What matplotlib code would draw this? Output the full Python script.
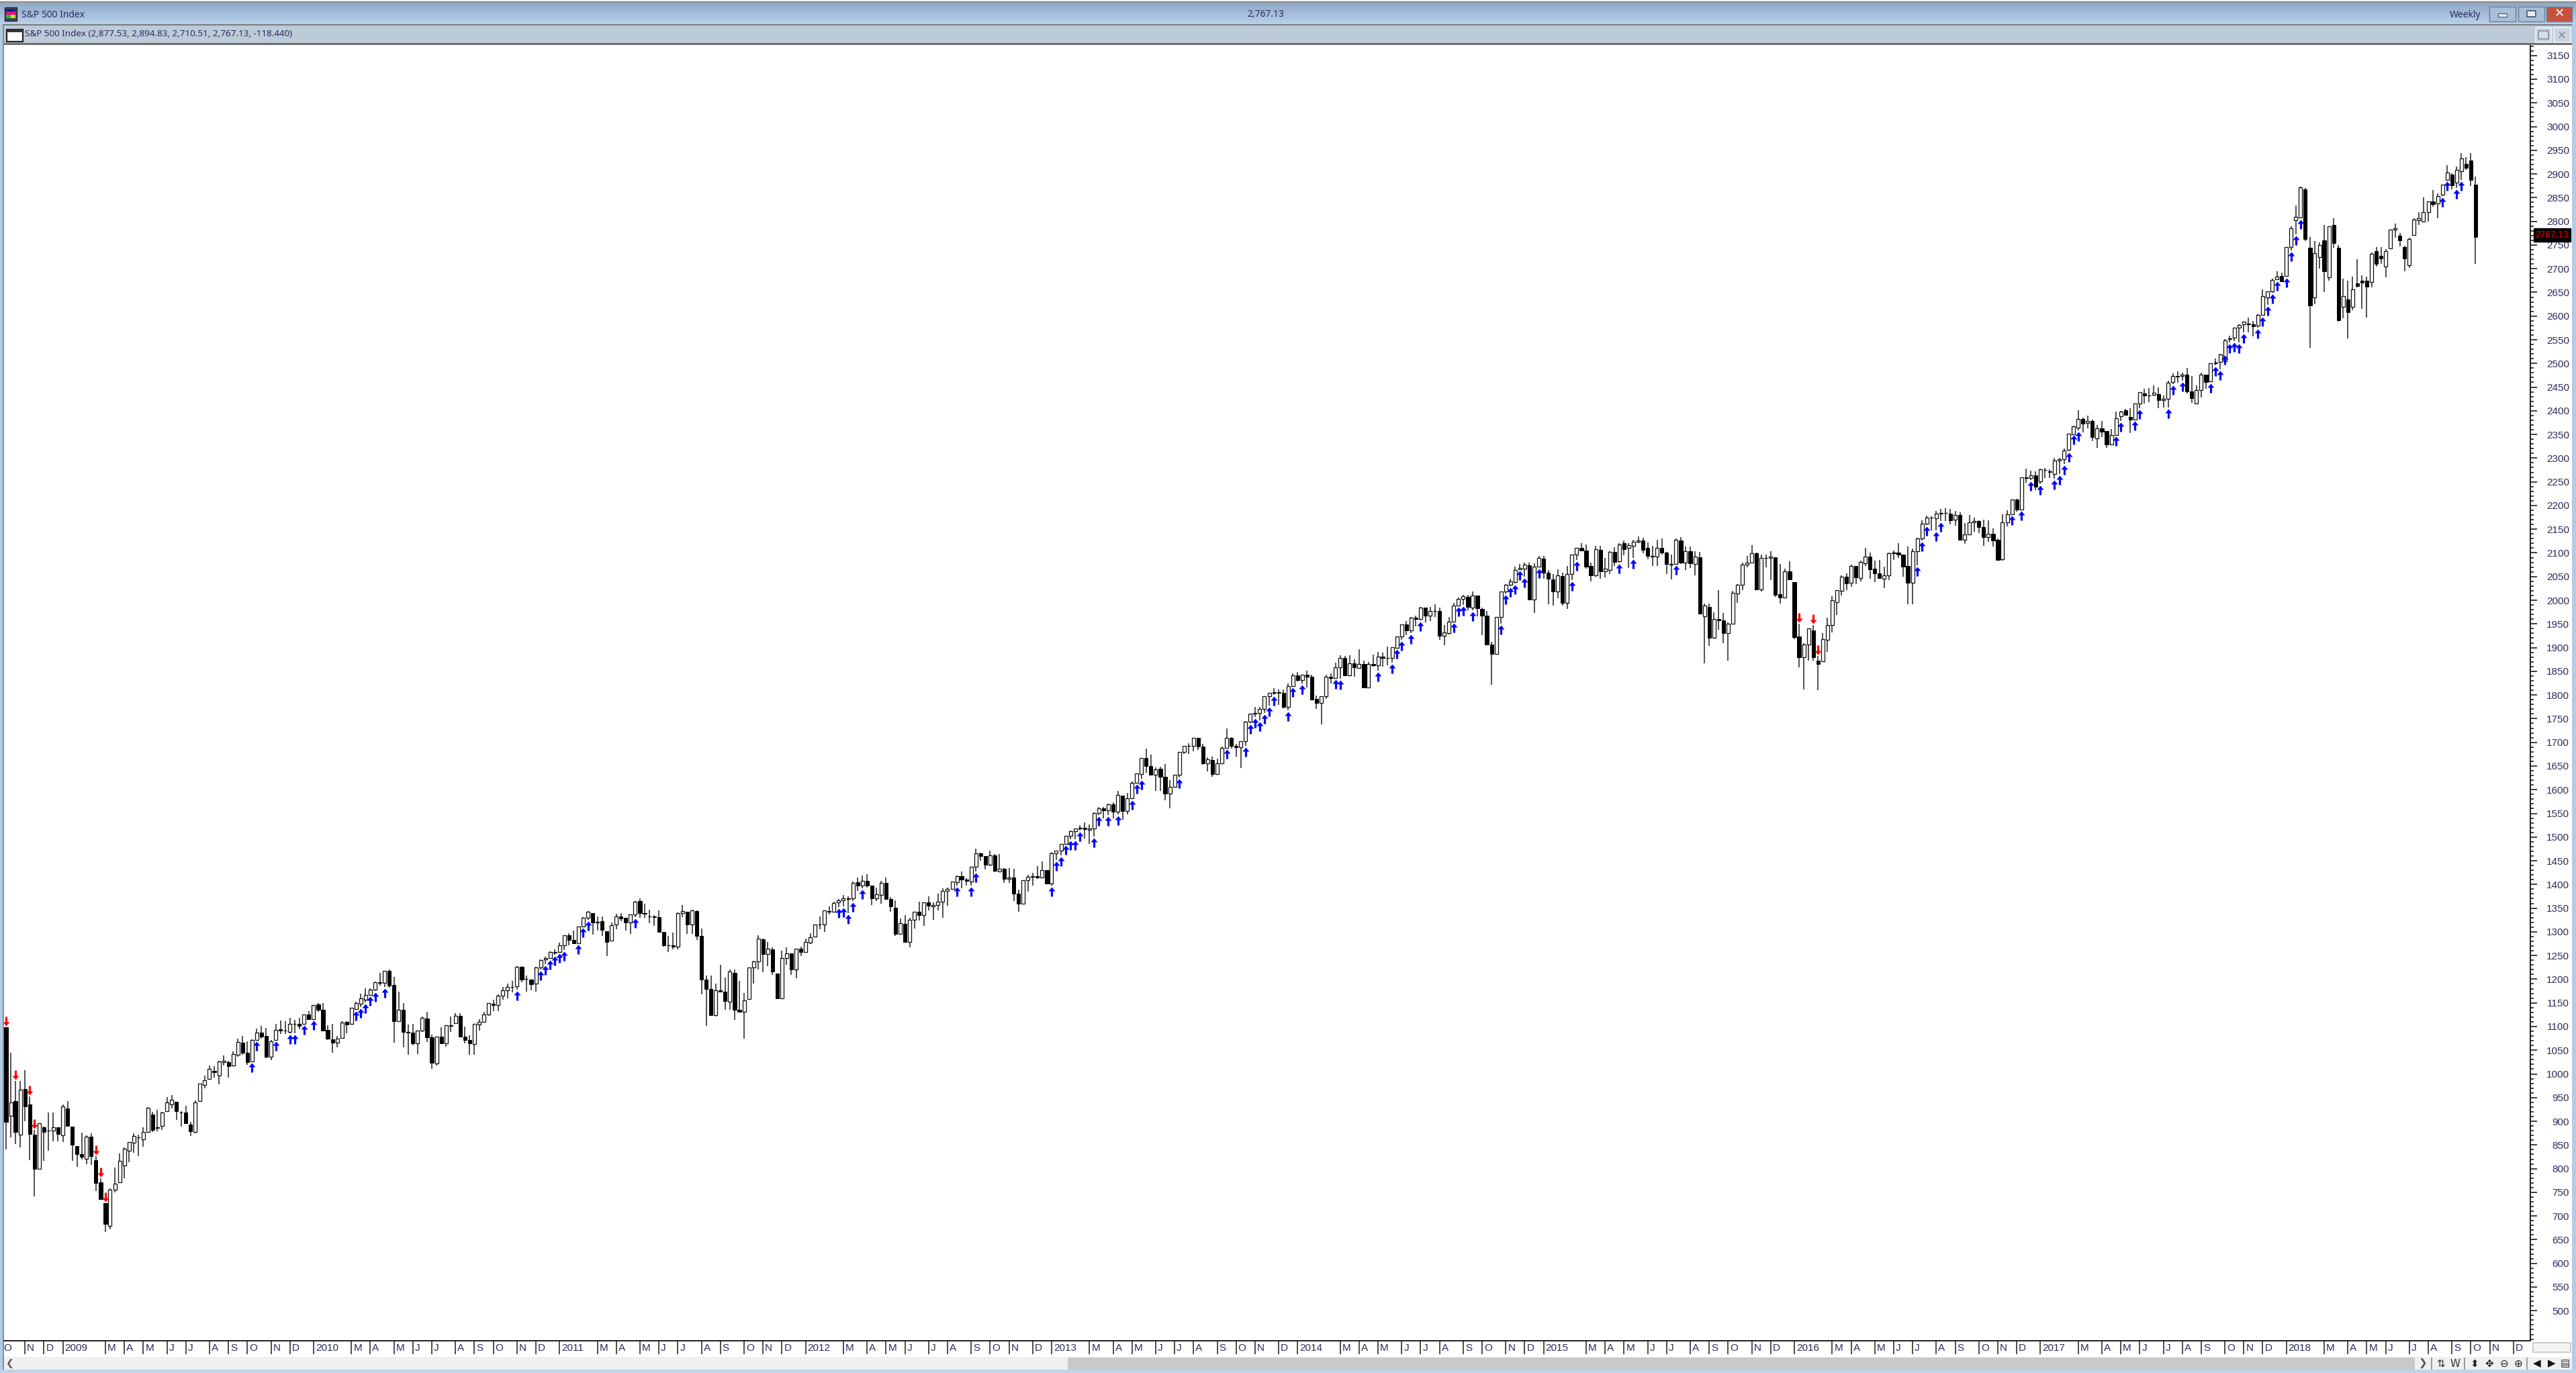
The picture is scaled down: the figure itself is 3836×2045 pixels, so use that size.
"""Weekly S&P 500 candlestick chart inside a trading-terminal window."""

import matplotlib

matplotlib.use("Agg")
import matplotlib.pyplot as plt
import numpy as np
import pandas as pd
from matplotlib.patches import Rectangle
from matplotlib.path import Path
from matplotlib.ticker import FixedLocator, MultipleLocator

WIDTH, HEIGHT = 3836, 2045

OPENS = [
    1099, 911, 942, 872, 968, 936, 872, 799, 887, 880, 880, 887, 870,
    # 2009
    927, 889, 847, 831, 821, 868, 818, 771, 727, 679, 755, 771, 806,
    838, 855, 866, 862, 877, 914, 888, 890, 921, 936, 941, 919, 919,
    893, 877, 942, 977, 989, 1006, 996, 1025, 1025, 1018, 1040, 1066, 1044,
    1026, 1071, 1087, 1080, 1036, 1071, 1094, 1092, 1089, 1105, 1105, 1105, 1126,
    # 2010
    1116, 1147, 1135, 1093, 1073, 1066, 1076, 1110, 1105, 1137,
    1148, 1157, 1167, 1178, 1194, 1192, 1217, 1188, 1111, 1136,
    1087, 1087, 1064, 1092, 1117, 1077, 1022, 1078, 1065, 1103,
    1107, 1122, 1079, 1071, 1063, 1104, 1110, 1126, 1148, 1146,
    1165, 1176, 1184, 1185, 1226, 1200, 1199, 1190, 1225, 1242, 1244, 1256,
    # 2011
    1258, 1272, 1293, 1283, 1276, 1311, 1329, 1340, 1320, 1322,
    1301, 1281, 1315, 1333, 1329, 1319, 1337, 1365, 1340, 1333,
    1333, 1331, 1300, 1271, 1272, 1268, 1340, 1343, 1315, 1344,
    1292, 1199, 1179, 1124, 1177, 1174, 1153, 1214, 1136, 1131,
    1158, 1224, 1238, 1284, 1253, 1263, 1212, 1159, 1245, 1255, 1220, 1265,
    # 2012
    1258, 1277, 1290, 1315, 1316, 1344, 1343, 1362, 1366, 1369,
    1371, 1405, 1397, 1408, 1397, 1370, 1378, 1403, 1369, 1351,
    1295, 1317, 1278, 1326, 1343, 1335, 1362, 1354, 1356, 1363,
    1386, 1391, 1405, 1418, 1411, 1406, 1438, 1466, 1460, 1441,
    1461, 1428, 1433, 1412, 1414, 1380, 1360, 1409, 1416, 1418, 1414, 1430,
    # 2013
    1402, 1466, 1472, 1486, 1503, 1513, 1518, 1520, 1515, 1518,
    1551, 1560, 1557, 1569, 1553, 1588, 1555, 1582, 1614, 1633,
    1667, 1650, 1631, 1644, 1627, 1592, 1606, 1632, 1680, 1692,
    1692, 1709, 1691, 1656, 1663, 1633, 1655, 1688, 1710, 1692,
    1690, 1703, 1744, 1760, 1762, 1770, 1798, 1805, 1806, 1805, 1775, 1818,
    # 2014
    1841, 1831, 1842, 1838, 1791, 1783, 1797, 1839, 1836, 1859,
    1878, 1841, 1867, 1857, 1865, 1816, 1865, 1863, 1881, 1878,
    1878, 1900, 1923, 1949, 1936, 1963, 1961, 1985, 1967, 1978,
    1978, 1925, 1931, 1955, 1988, 2003, 2007, 1985, 2010, 1982,
    1967, 1906, 1886, 1965, 2018, 2032, 2039, 2065, 2067, 2074, 2002, 2071,
    # 2015
    2088, 2058, 2044, 2019, 2051, 1995, 2055, 2097, 2110, 2105,
    2072, 2053, 2107, 2061, 2064, 2102, 2082, 2120, 2110, 2115,
    2123, 2126, 2110, 2092, 2092, 2110, 2101, 2075, 2076, 2126,
    2079, 2104, 2077, 2091, 1966, 1986, 1921, 1961, 1958, 1931,
    1951, 2014, 2033, 2075, 2080, 2099, 2023, 2089, 2090, 2091, 2013, 2006, 2061,
    # 2016
    2038, 1923, 1880, 1906, 1936, 1873, 1871, 1917, 1947, 1996,
    2020, 2050, 2037, 2073, 2047, 2078, 2092, 2067, 2057, 2046,
    2052, 2100, 2100, 2096, 2072, 2037, 2103, 2130, 2162, 2175,
    2173, 2183, 2184, 2183, 2170, 2180, 2128, 2139, 2164, 2168,
    2154, 2133, 2141, 2128, 2086, 2165, 2182, 2212, 2192, 2260, 2258, 2263,
    # 2017
    2251, 2275, 2272, 2267, 2295, 2298, 2318, 2350, 2365, 2383,
    2374, 2378, 2341, 2363, 2357, 2329, 2349, 2388, 2401, 2387,
    2382, 2416, 2437, 2433, 2434, 2435, 2423, 2425, 2460, 2473,
    2474, 2477, 2441, 2415, 2443, 2477, 2462, 2500, 2503, 2504,
    2551, 2554, 2575, 2582, 2584, 2582, 2580, 2603, 2639, 2652, 2677, 2684,
    # 2018
    2684, 2745, 2802, 2808, 2867, 2744, 2639, 2725, 2760, 2682,
    2792, 2744, 2620, 2635, 2619, 2669, 2675, 2675, 2672, 2737,
    2727, 2705, 2743, 2782, 2770, 2745, 2707, 2771, 2802, 2800,
    2820, 2842, 2838, 2856, 2887, 2899, 2882, 2906, 2921, 2928, 2877.53,
]

HIGHS = [
    1099, 1044, 985, 985, 1008, 952, 882, 896, 889, 918, 918, 887, 935,
    # 2009
    942, 889, 847, 876, 870, 875, 826, 779, 727, 758, 803, 832, 845,
    856, 875, 872, 888, 930, 920, 924, 920, 951, 956, 941, 922, 932,
    898, 944, 980, 996, 1018, 1016, 1027, 1039, 1028, 1048, 1074, 1080, 1069,
    1073, 1096, 1101, 1097, 1071, 1105, 1113, 1112, 1119, 1114, 1118, 1126, 1133,
    # 2010
    1145, 1150, 1150, 1103, 1105, 1080, 1112, 1112, 1139, 1153,
    1170, 1181, 1181, 1195, 1214, 1217, 1220, 1205, 1174, 1149,
    1104, 1106, 1092, 1121, 1131, 1083, 1078, 1099, 1103, 1121,
    1129, 1129, 1100, 1081, 1105, 1115, 1131, 1149, 1157, 1168,
    1184, 1191, 1196, 1227, 1227, 1207, 1199, 1226, 1241, 1247, 1259, 1263,
    # 2011
    1277, 1293, 1297, 1303, 1311, 1331, 1344, 1340, 1332, 1332,
    1301, 1319, 1338, 1339, 1329, 1337, 1365, 1371, 1359, 1347,
    1335, 1345, 1300, 1292, 1299, 1341, 1356, 1343, 1347, 1345,
    1307, 1208, 1208, 1191, 1231, 1204, 1220, 1220, 1196, 1171,
    1225, 1239, 1293, 1285, 1278, 1267, 1212, 1260, 1267, 1255, 1265, 1269,
    # 2012
    1285, 1297, 1315, 1333, 1345, 1354, 1363, 1369, 1378, 1375,
    1406, 1414, 1419, 1422, 1397, 1393, 1407, 1415, 1374, 1366,
    1328, 1335, 1329, 1343, 1363, 1362, 1375, 1362, 1380, 1392,
    1394, 1406, 1419, 1427, 1413, 1438, 1475, 1467, 1460, 1471,
    1464, 1464, 1434, 1434, 1433, 1389, 1409, 1421, 1424, 1439, 1448, 1430,
    # 2013
    1468, 1472, 1486, 1503, 1514, 1518, 1525, 1531, 1526, 1552,
    1564, 1564, 1570, 1574, 1597, 1588, 1593, 1618, 1635, 1667,
    1687, 1674, 1647, 1649, 1654, 1620, 1632, 1680, 1693, 1698,
    1710, 1709, 1697, 1669, 1670, 1665, 1691, 1730, 1711, 1697,
    1703, 1745, 1760, 1775, 1775, 1798, 1805, 1814, 1812, 1811, 1824, 1845,
    # 2014
    1849, 1843, 1851, 1842, 1799, 1798, 1842, 1846, 1868, 1884,
    1882, 1884, 1876, 1897, 1873, 1870, 1885, 1891, 1889, 1902,
    1901, 1924, 1949, 1956, 1964, 1968, 1986, 1985, 1986, 1991,
    1985, 1948, 1964, 1995, 2005, 2011, 2011, 2019, 2006, 1985,
    1978, 1912, 1965, 2018, 2034, 2046, 2071, 2076, 2079, 2079, 2078, 2094,
    # 2015
    2093, 2064, 2056, 2065, 2058, 2072, 2097, 2111, 2120, 2118,
    2079, 2115, 2115, 2089, 2103, 2112, 2121, 2126, 2121, 2127,
    2135, 2132, 2122, 2115, 2127, 2130, 2102, 2096, 2130, 2133,
    2114, 2113, 2104, 2102, 1993, 1993, 1975, 2021, 1973, 1953,
    2020, 2034, 2080, 2094, 2116, 2100, 2097, 2097, 2103, 2091, 2077, 2067, 2082,
    # 2016
    2038, 1950, 1909, 1940, 1947, 1882, 1931, 1963, 2009, 2022,
    2052, 2057, 2075, 2073, 2083, 2111, 2100, 2083, 2085, 2071,
    2100, 2105, 2121, 2096, 2113, 2109, 2132, 2169, 2178, 2177,
    2188, 2193, 2194, 2193, 2188, 2186, 2163, 2180, 2175, 2169,
    2170, 2169, 2152, 2131, 2182, 2190, 2213, 2214, 2260, 2278, 2273, 2272,
    # 2017
    2278, 2279, 2276, 2300, 2300, 2320, 2352, 2368, 2401, 2386,
    2390, 2382, 2370, 2378, 2356, 2362, 2398, 2400, 2404, 2406,
    2416, 2440, 2446, 2448, 2454, 2450, 2433, 2464, 2479, 2484,
    2480, 2491, 2474, 2454, 2480, 2475, 2500, 2510, 2520, 2552,
    2558, 2576, 2582, 2588, 2597, 2590, 2604, 2657, 2651, 2679, 2695, 2692,
    # 2018
    2745, 2790, 2833, 2873, 2871, 2767, 2758, 2755, 2792, 2790,
    2806, 2750, 2679, 2675, 2683, 2720, 2686, 2683, 2734, 2745,
    2745, 2742, 2782, 2795, 2775, 2748, 2766, 2806, 2819, 2851,
    2842, 2866, 2859, 2877, 2918, 2901, 2915, 2944, 2936, 2944, 2894.83,
]

LOWS = [
    840, 866, 852, 845, 900, 818, 741, 799, 816, 838, 857, 857, 856,
    # 2009
    889, 817, 804, 819, 810, 808, 753, 734, 666, 672, 750, 771, 779,
    813, 834, 826, 846, 877, 878, 879, 882, 921, 927, 903, 889, 896,
    869, 875, 942, 969, 989, 992, 978, 1018, 992, 1018, 1036, 1041, 1019,
    1026, 1071, 1074, 1033, 1029, 1071, 1085, 1084, 1086, 1086, 1094, 1105, 1115,
    # 2010
    1116, 1131, 1090, 1072, 1045, 1056, 1075, 1086, 1105, 1135,
    1141, 1151, 1166, 1175, 1187, 1183, 1182, 1066, 1110, 1056,
    1041, 1060, 1042, 1089, 1068, 1011, 1018, 1063, 1057, 1088,
    1107, 1077, 1064, 1040, 1041, 1091, 1110, 1123, 1132, 1132,
    1156, 1160, 1172, 1178, 1194, 1173, 1176, 1174, 1220, 1232, 1243, 1252,
    # 2011
    1258, 1262, 1271, 1275, 1276, 1311, 1326, 1294, 1303, 1291,
    1249, 1281, 1305, 1323, 1302, 1295, 1331, 1329, 1329, 1318,
    1312, 1298, 1268, 1258, 1263, 1263, 1331, 1296, 1296, 1283,
    1168, 1102, 1122, 1121, 1175, 1136, 1136, 1114, 1131, 1075,
    1158, 1191, 1221, 1215, 1227, 1209, 1158, 1159, 1231, 1209, 1202, 1249,
    # 2012
    1258, 1275, 1290, 1306, 1300, 1337, 1341, 1352, 1354, 1340,
    1365, 1386, 1392, 1394, 1357, 1365, 1359, 1368, 1343, 1292,
    1295, 1277, 1267, 1307, 1324, 1313, 1345, 1325, 1345, 1329,
    1355, 1391, 1397, 1392, 1397, 1397, 1428, 1450, 1431, 1439,
    1426, 1426, 1403, 1403, 1365, 1343, 1360, 1385, 1398, 1412, 1414, 1402,
    # 2013
    1398, 1452, 1461, 1485, 1495, 1495, 1514, 1497, 1485, 1501,
    1547, 1539, 1546, 1540, 1548, 1536, 1548, 1581, 1614, 1623,
    1636, 1630, 1598, 1598, 1578, 1560, 1604, 1626, 1675, 1675,
    1681, 1684, 1653, 1639, 1627, 1633, 1655, 1688, 1687, 1670,
    1646, 1692, 1740, 1753, 1746, 1762, 1777, 1800, 1779, 1772, 1768, 1818,
    # 2014
    1828, 1824, 1816, 1790, 1770, 1738, 1792, 1824, 1836, 1834,
    1840, 1841, 1839, 1857, 1814, 1816, 1860, 1851, 1860, 1862,
    1868, 1900, 1916, 1926, 1931, 1945, 1958, 1953, 1956, 1965,
    1916, 1905, 1928, 1955, 1988, 1990, 1979, 1979, 1966, 1926,
    1906, 1821, 1886, 1951, 2014, 2030, 2035, 2065, 2050, 2002, 1973, 2069,
    # 2015
    2046, 1992, 1988, 2004, 1989, 1981, 2042, 2085, 2103, 2067,
    2040, 2049, 2045, 2048, 2056, 2072, 2079, 2095, 2068, 2090,
    2120, 2099, 2086, 2072, 2072, 2097, 2056, 2044, 2076, 2077,
    2064, 2068, 2052, 1971, 1867, 1903, 1937, 1938, 1909, 1872,
    1951, 1994, 2022, 2069, 2080, 2022, 2019, 2070, 2042, 2007, 1993, 2005, 2043,
    # 2016
    1918, 1858, 1812, 1872, 1872, 1810, 1871, 1891, 1932, 1969,
    2010, 2022, 2029, 2034, 2040, 2073, 2045, 2039, 2045, 2026,
    2043, 2085, 2089, 2050, 1992, 1992, 2074, 2126, 2159, 2148,
    2148, 2168, 2168, 2160, 2157, 2128, 2119, 2139, 2145, 2142,
    2115, 2124, 2113, 2084, 2084, 2156, 2182, 2187, 2192, 2248, 2254, 2233,
    # 2017
    2245, 2258, 2258, 2257, 2267, 2288, 2314, 2352, 2358, 2354,
    2363, 2336, 2322, 2344, 2322, 2329, 2349, 2378, 2390, 2353,
    2382, 2405, 2415, 2418, 2431, 2405, 2407, 2407, 2457, 2459,
    2464, 2437, 2417, 2417, 2428, 2446, 2461, 2496, 2487, 2520,
    2544, 2547, 2544, 2566, 2566, 2557, 2575, 2601, 2624, 2649, 2676, 2673,
    # 2018
    2683, 2739, 2772, 2806, 2759, 2533, 2625, 2700, 2650, 2675,
    2744, 2588, 2596, 2553, 2612, 2660, 2615, 2597, 2660, 2705,
    2710, 2682, 2743, 2765, 2747, 2695, 2701, 2771, 2792, 2798,
    2800, 2830, 2807, 2854, 2887, 2868, 2870, 2888, 2908, 2874, 2710.51,
]

CLOSES = [
    899, 940, 877, 967, 931, 873, 800, 896, 877, 880, 887, 873, 931,
    # 2009
    890, 850, 831, 825, 868, 827, 769, 735, 683, 756, 768, 816, 842,
    856, 869, 866, 877, 929, 882, 886, 919, 940, 946, 921, 918, 896,
    879, 940, 979, 987, 1010, 1004, 1026, 1028, 1016, 1042, 1068, 1044, 1025,
    1071, 1087, 1079, 1036, 1069, 1093, 1091, 1091, 1105, 1106, 1102, 1126, 1115,
    # 2010
    1145, 1136, 1092, 1074, 1066, 1075, 1109, 1104, 1139, 1150,
    1160, 1167, 1178, 1194, 1192, 1217, 1187, 1111, 1136, 1088,
    1089, 1065, 1092, 1118, 1077, 1023, 1078, 1065, 1103, 1102,
    1122, 1079, 1072, 1065, 1105, 1110, 1126, 1149, 1146, 1165,
    1176, 1183, 1183, 1226, 1199, 1200, 1189, 1225, 1240, 1244, 1257, 1258,
    # 2011
    1272, 1293, 1283, 1276, 1311, 1329, 1343, 1320, 1321, 1304,
    1279, 1314, 1332, 1328, 1320, 1337, 1364, 1340, 1338, 1333,
    1331, 1300, 1271, 1272, 1268, 1340, 1344, 1316, 1345, 1292,
    1199, 1179, 1124, 1177, 1174, 1154, 1216, 1136, 1131, 1155,
    1225, 1238, 1285, 1253, 1264, 1216, 1159, 1244, 1255, 1220, 1265, 1258,
    # 2012
    1278, 1289, 1315, 1316, 1345, 1343, 1361, 1366, 1370, 1371,
    1404, 1397, 1408, 1398, 1370, 1379, 1403, 1369, 1353, 1295,
    1318, 1278, 1326, 1343, 1335, 1362, 1355, 1357, 1363, 1386,
    1391, 1406, 1418, 1411, 1407, 1438, 1466, 1460, 1441, 1461,
    1429, 1433, 1412, 1414, 1380, 1360, 1409, 1416, 1418, 1414, 1430, 1402,
    # 2013
    1466, 1472, 1486, 1503, 1513, 1518, 1520, 1516, 1518, 1551,
    1561, 1557, 1569, 1553, 1589, 1555, 1582, 1614, 1634, 1667,
    1650, 1631, 1643, 1627, 1592, 1606, 1632, 1680, 1692, 1692,
    1710, 1691, 1656, 1664, 1633, 1655, 1688, 1710, 1692, 1690,
    1703, 1744, 1760, 1762, 1771, 1798, 1805, 1806, 1805, 1775, 1818, 1841,
    # 2014
    1831, 1842, 1839, 1790, 1783, 1797, 1839, 1836, 1859, 1878,
    1841, 1867, 1858, 1865, 1816, 1865, 1863, 1881, 1878, 1878,
    1901, 1924, 1949, 1936, 1963, 1961, 1985, 1968, 1978, 1978,
    1925, 1932, 1955, 1988, 2003, 2008, 1986, 2010, 1983, 1968,
    1906, 1887, 1965, 2018, 2032, 2040, 2064, 2068, 2075, 2002, 2071, 2089,
    # 2015
    2058, 2045, 2019, 2052, 1995, 2055, 2097, 2110, 2105, 2071,
    2053, 2108, 2061, 2067, 2102, 2081, 2118, 2108, 2116, 2123,
    2126, 2107, 2093, 2094, 2110, 2101, 2077, 2077, 2127, 2080,
    2104, 2078, 2092, 1971, 1989, 1921, 1961, 1958, 1931, 1951,
    2015, 2033, 2075, 2079, 2099, 2023, 2089, 2090, 2092, 2012, 2006, 2061, 2044,
    # 2016
    1922, 1880, 1907, 1940, 1880, 1865, 1918, 1948, 2000, 2022,
    2050, 2036, 2073, 2048, 2081, 2092, 2065, 2057, 2047, 2052,
    2099, 2099, 2096, 2071, 2037, 2103, 2130, 2162, 2175, 2174,
    2183, 2184, 2184, 2169, 2180, 2128, 2139, 2165, 2168, 2154,
    2133, 2141, 2126, 2085, 2164, 2182, 2213, 2192, 2260, 2258, 2264, 2239,
    # 2017
    2277, 2275, 2271, 2295, 2297, 2316, 2351, 2367, 2383, 2373,
    2378, 2344, 2363, 2356, 2329, 2349, 2384, 2399, 2391, 2382,
    2416, 2439, 2432, 2433, 2438, 2423, 2425, 2459, 2473, 2472,
    2477, 2441, 2426, 2443, 2477, 2461, 2500, 2502, 2519, 2549,
    2553, 2575, 2581, 2588, 2582, 2579, 2602, 2642, 2652, 2676, 2683, 2674,
    # 2018
    2745, 2786, 2810, 2872, 2763, 2622, 2733, 2750, 2695, 2790,
    2754, 2591, 2642, 2608, 2657, 2664, 2670, 2662, 2731, 2710,
    2722, 2737, 2782, 2786, 2760, 2721, 2763, 2804, 2806, 2820,
    2842, 2836, 2853, 2877, 2903, 2876, 2908, 2933, 2913, 2888, 2767.13,
]

# Weeks flagged by the study, as bar numbers counted from the first bar
SIGNAL_UP = [
    52, 53, 57, 60, 61, 63, 65, 74, 75, 76, 77, 78, 80, 108, 113, 114, 115, 116,
    117, 118, 121, 122, 123, 133, 176, 177, 178, 179, 181, 201, 204, 205, 221,
    222, 223, 224, 225, 226, 227, 230, 231, 233, 235, 238, 239, 240, 248, 258,
    262, 263, 264, 265, 266, 267, 268, 271, 272, 274, 281, 282, 290, 293, 294,
    295, 297, 299, 306, 307, 308, 310, 316, 317, 318, 319, 320, 321, 324, 331,
    332, 341, 344, 353, 404, 405, 406, 408, 409, 424, 426, 428, 430, 433, 434,
    435, 436, 437, 438, 446, 447, 450, 451, 457, 458, 460, 466, 467, 468, 469,
    470, 471, 472, 473, 476, 477, 478, 479, 480, 482, 483, 484, 485, 515, 516,
    518, 519,
]
SIGNAL_DOWN = [0, 2, 5, 6, 19, 20, 21, 379, 382, 383]

FIRST_WEEK = "2008-10-06"
CALENDAR_START = "2008-09-29"
CALENDAR_END = "2018-12-24"
MONTH_LETTERS = "JFMAMJJASOND"
PRICE_LABELS = list(range(500, 3151, 50))

TITLE = "S&P 500 Index"
LAST_TEXT = "2,767.13"
PERIOD = "Weekly"
QUOTE = "S&P 500 Index (2,877.53, 2,894.83, 2,710.51, 2,767.13, -118.440)"
LAST_BOX = "2767.13"

INK = "#2b2b58"
UI_FONT = "Noto Sans"
AXIS_FONT = "Liberation Sans"


def px(value):
    """Convert pixels to points at the figure's dpi."""
    return value * 0.72


def month_ticks():
    """Return (bar position, label) for the first bar of every month."""
    mondays = pd.date_range(CALENDAR_START, CALENDAR_END, freq="W-MON")
    offset = (pd.Timestamp(FIRST_WEEK) - mondays[0]).days // 7
    ticks = []
    previous = None
    for i, monday in enumerate(mondays):
        last_day = monday + pd.Timedelta(days=4)
        # New Year's Day does not open a month on the chart
        if last_day.month == 1 and last_day.day == 1:
            last_day = monday + pd.Timedelta(days=3)
        if last_day.month != previous:
            previous = last_day.month
            if previous == 2:
                continue
            label = str(last_day.year) if previous == 1 else MONTH_LETTERS[previous - 1]
            ticks.append((i - offset, label))
    return ticks


def draw_window(chrome):
    """Draw the title bars, borders and the bottom toolbar."""
    chrome.set_xlim(0, WIDTH)
    chrome.set_ylim(HEIGHT, 0)
    chrome.axis("off")

    def box(x0, y0, x1, y1, **kwargs):
        chrome.add_patch(Rectangle((x0, y0), x1 - x0, y1 - y0, **kwargs))

    box(0, 0, WIDTH, HEIGHT, facecolor="white", edgecolor="none")
    box(0, 0, WIDTH, 3, facecolor="#f2f2f2", edgecolor="none")
    box(0, 2, WIDTH, 4, facecolor="#8c8c8c", edgecolor="none")
    gradient = np.linspace(0, 1, 64).reshape(-1, 1)
    colors = np.array([[0.56, 0.66, 0.78]]) * (1 - gradient) + np.array([[0.72, 0.82, 0.92]]) * gradient
    chrome.imshow(colors[:, None, :], extent=(0, WIDTH, 36, 4), aspect="auto", zorder=1)
    chrome.set_xlim(0, WIDTH)
    chrome.set_ylim(HEIGHT, 0)

    box(0, 36, WIDTH, 38, facecolor="#7c7c7c", edgecolor="none", zorder=2)
    box(5, 38, WIDTH - 6, 64, facecolor="#bdcbd9", edgecolor="none", zorder=2)
    box(5, 64, WIDTH - 6, 67, facecolor="#6f6f6f", edgecolor="none", zorder=2)

    # Window frame
    box(0, 36, 4, HEIGHT, facecolor="#b4cbe4", edgecolor="none", zorder=2)
    box(4, 38, 6, HEIGHT, facecolor="#7e8ea0", edgecolor="none", zorder=2)
    box(WIDTH - 6, 36, WIDTH, HEIGHT, facecolor="#b4cbe4", edgecolor="none", zorder=2)
    box(0, HEIGHT - 5, WIDTH, HEIGHT, facecolor="#bcd4ec", edgecolor="none", zorder=2)

    # Title bar icon
    box(7, 11, 25, 31, facecolor="#3d4a58", edgecolor="#222222", linewidth=1, zorder=3)
    box(9, 14, 23, 17, facecolor="#101080", edgecolor="none", zorder=4)
    box(9, 17, 23, 22, facecolor="#e0108c", edgecolor="none", zorder=4)
    box(9, 22, 16, 27, facecolor="#20c020", edgecolor="none", zorder=4)
    box(16, 22, 23, 27, facecolor="#d8d820", edgecolor="none", zorder=4)
    box(10, 44, 34, 62, facecolor="white", edgecolor="#222222", linewidth=1.6, zorder=3)
    box(10, 44, 34, 48, facecolor="#333333", edgecolor="none", zorder=4)

    chrome.text(32, 22, TITLE, fontsize=10, family=UI_FONT, color="#2c2c60", va="center", zorder=5)
    chrome.text(1885, 21, LAST_TEXT, fontsize=10, family=UI_FONT, color="#2c2c60", va="center", ha="center", zorder=5)
    chrome.text(3671, 22, PERIOD, fontsize=10, family=UI_FONT, color="#2c2c60", va="center", ha="center", zorder=5)
    chrome.text(37, 50, QUOTE, fontsize=9.7, family=UI_FONT, color="#2c2c60", va="center", zorder=5)

    # Window buttons
    for x0, x1, face in [(3707, 3746, "#a9bfd8"), (3750, 3789, "#a9bfd8"), (3792, 3830, "#c4523f")]:
        box(x0, 10, x1, 32, facecolor=face, edgecolor="#6d7f94", linewidth=1, zorder=3)
    box(3720, 20, 3733, 25, facecolor="#e8eef5", edgecolor="#44546a", linewidth=0.8, zorder=4)
    box(3763, 16, 3776, 25, facecolor="#e8eef5", edgecolor="#44546a", linewidth=1.2, zorder=4)
    chrome.text(3811, 20, "✕", fontsize=13, fontweight="bold", color="white", ha="center", va="center", zorder=5)
    box(3776, 41, 3799, 63, facecolor="#c8d4e0", edgecolor="#f0f4f8", linewidth=1.2, zorder=3)
    box(3780, 46, 3795, 58, facecolor="#d6dee7", edgecolor="#8a8f96", linewidth=1.2, zorder=4)
    box(3803, 41, 3828, 63, facecolor="#c8d4e0", edgecolor="#f0f4f8", linewidth=1.2, zorder=3)
    chrome.text(3815, 52, "✕", fontsize=12, color="#8a8f96", ha="center", va="center", zorder=5)

    # Scroll bar and toolbar
    box(6, 2021, 3830, 2040, facecolor="#f0f0f0", edgecolor="none", zorder=1)
    box(1590, 2022, 3596, 2040, facecolor="#c9c9c9", edgecolor="none", zorder=2)
    box(3772, 2000, 3828, 2014, facecolor="#f4f4f4", edgecolor="#c4c4c4", linewidth=1.2, zorder=2)
    chrome.text(14, 2031, "❮", fontsize=10, color="#555555", ha="center", va="center", family="DejaVu Sans", zorder=5)
    toolbar = [(3608, "❯", "#555555"), (3635, "⇅", "#333333"), (3656, "W", "#333333"), (3685, "⬍", "#222222"),
               (3707, "✥", "#222222"), (3729, "⊖", "#222222"), (3750, "⊕", "#222222"),
               (3778, "◀", "#111111"), (3800, "▶", "#111111"), (3820, "▤", "#333333")]
    for x, glyph, color in toolbar:
        chrome.text(x, 2031, glyph, fontsize=11, color=color, ha="center", va="center", family="DejaVu Sans", zorder=5)
    for x in [3621, 3670, 3763]:
        chrome.plot([x, x], [2023, 2039], color="#8c8c8c", linewidth=1.2, zorder=5)


def draw_candles(ax, bars, opens, highs, lows, closes):
    """Draw wicks and bodies, black when the week closed lower."""
    ax.vlines(bars, lows, highs, color="#1c1c1c", linewidth=px(1.5), zorder=2)
    falling = closes < opens
    rising = ~falling
    ax.bar(bars[falling], (opens - closes)[falling], bottom=closes[falling], width=5.2 / BAR_PX,
           facecolor="black", edgecolor="black", linewidth=px(1.0), zorder=3)
    ax.bar(bars[rising], (closes - opens)[rising], bottom=opens[rising], width=5.0 / BAR_PX,
           facecolor="white", edgecolor="#111111", linewidth=px(1.3), zorder=3)


def draw_signals(ax, bars, highs, lows):
    """Mark signal weeks with arrows that point at the bar's low or high."""
    up = Path([(0, -2), (5, -8), (1.6, -8), (1.6, -16), (-1.6, -16), (-1.6, -8), (-5, -8), (0, -2)], closed=True)
    down = Path([(0, 2), (5, 8), (1.6, 8), (1.6, 16), (-1.6, 16), (-1.6, 8), (-5, 8), (0, 2)], closed=True)
    size = px(32)
    ax.plot(bars[SIGNAL_UP], lows[SIGNAL_UP], linestyle="none", marker=up, markersize=size,
            color="#0000ff", markeredgewidth=0, zorder=5)
    ax.plot(bars[SIGNAL_DOWN], highs[SIGNAL_DOWN], linestyle="none", marker=down, markersize=size,
            color="#ff0000", markeredgewidth=0, zorder=5)


BAR_PX = 7.045
FIRST_BAR_PX = 9.0
PLOT_LEFT, PLOT_RIGHT, PLOT_TOP, PLOT_BOTTOM = 6, 3768, 68, 1997
PRICE_AT_PX82 = 3150
PX_PER_POINT = 0.7055


def main():
    opens = np.array(OPENS, dtype=float)
    highs = np.array(HIGHS, dtype=float)
    lows = np.array(LOWS, dtype=float)
    closes = np.array(CLOSES, dtype=float)
    assert len(opens) == len(highs) == len(lows) == len(closes) == 523, (len(opens), len(highs), len(lows), len(closes))
    bars = np.arange(len(closes))

    fig = plt.figure(figsize=(WIDTH / 100, HEIGHT / 100), dpi=100, facecolor="white")
    chrome = fig.add_axes([0, 0, 1, 1], zorder=0)
    draw_window(chrome)

    ax = fig.add_axes(
        [PLOT_LEFT / WIDTH, 1 - PLOT_BOTTOM / HEIGHT, (PLOT_RIGHT - PLOT_LEFT) / WIDTH, (PLOT_BOTTOM - PLOT_TOP) / HEIGHT],
        zorder=1,
    )
    ax.set_xlim((PLOT_LEFT - FIRST_BAR_PX) / BAR_PX, (PLOT_RIGHT - FIRST_BAR_PX) / BAR_PX)
    ax.set_ylim(
        PRICE_AT_PX82 - (PLOT_BOTTOM - 82.7) / PX_PER_POINT,
        PRICE_AT_PX82 + (82.7 - PLOT_TOP) / PX_PER_POINT,
    )

    draw_candles(ax, bars, opens, highs, lows, closes)
    draw_signals(ax, bars, highs, lows)

    # Price axis on the right
    for side in ("top", "left"):
        ax.spines[side].set_visible(False)
    for side in ("right", "bottom"):
        ax.spines[side].set_linewidth(px(2))
        ax.spines[side].set_color("#222222")
    ax.yaxis.tick_right()
    ax.yaxis.set_major_locator(FixedLocator(PRICE_LABELS))
    ax.yaxis.set_minor_locator(MultipleLocator(10))
    ax.tick_params(axis="y", which="major", length=px(10), width=px(1.7), color="#222222", pad=px(48))
    ax.tick_params(axis="y", which="minor", length=px(5), width=px(1.7), color="#222222")
    ax.set_yticklabels([str(v) for v in PRICE_LABELS])
    for label in ax.get_yticklabels():
        label.set_horizontalalignment("right")
        label.set_fontsize(11)
        label.set_family(AXIS_FONT)
        label.set_color(INK)

    # Month ticks hang below the chart, with the letter to the right of the tick
    ticks = month_ticks()
    ax.xaxis.set_major_locator(FixedLocator([t[0] for t in ticks]))
    ax.tick_params(axis="x", which="major", length=px(20), width=px(1.7), color="#333333", labelbottom=False)
    for position, label in ticks:
        ax.annotate(label, xy=(position, 0), xycoords=("data", "axes fraction"), xytext=(3, -11),
                    textcoords="offset pixels", fontsize=11, family=AXIS_FONT, color=INK,
                    ha="left", va="center", annotation_clip=False)

    ax.annotate(LAST_BOX, xy=(1, closes[-1]), xycoords=("axes fraction", "data"), xytext=(57, 3),
                textcoords="offset pixels", fontsize=9.8, family=AXIS_FONT, color="#b00000",
                fontweight="bold", ha="right", va="center", zorder=6, annotation_clip=False,
                bbox=dict(boxstyle="square,pad=0.2", facecolor="black", edgecolor="black"))

    fig.savefig("out.png", dpi=100)
    plt.close(fig)


if __name__ == "__main__":
    main()
